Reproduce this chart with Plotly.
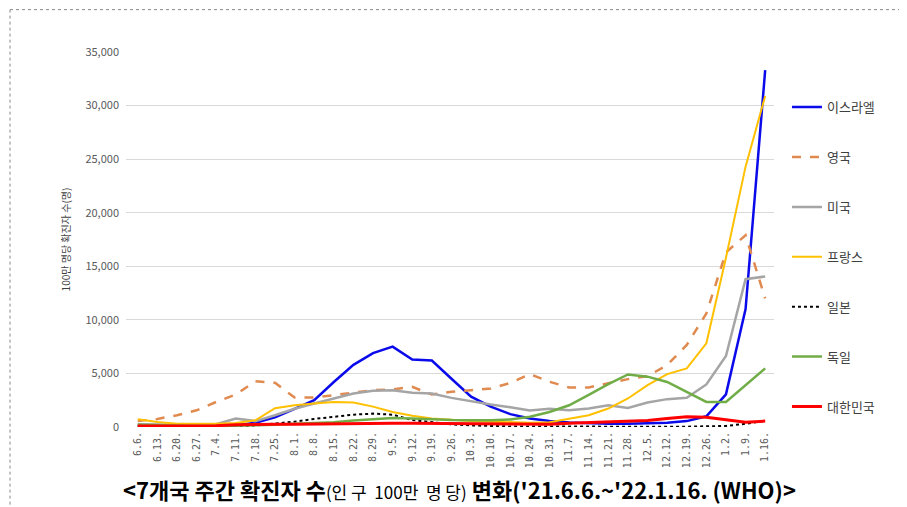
import plotly.graph_objects as go

weeks = ["6.6.", "6.13.", "6.20.", "6.27.", "7.4.", "7.11.", "7.18.", "7.25.", "8.1.", "8.8.",
         "8.15.", "8.22.", "8.29.", "9.5.", "9.12.", "9.19.", "9.26.", "10.3.", "10.10.", "10.17.",
         "10.24.", "10.31.", "11.7.", "11.14.", "11.21.", "11.28.", "12.5.", "12.12.", "12.19.", "12.26.",
         "1.2.", "1.9.", "1.16."]

israel = [100, 100, 100, 100, 100, 150, 400, 900, 1700, 2500, 4200, 5800, 6900, 7500, 6300, 6200, 4500,
          2830, 1900, 1200, 800, 550, 420, 350, 300, 300, 330, 400, 550, 1000, 3050, 11000, 33300]
uk = [550, 750, 1100, 1560, 2340, 3030, 4280, 4125, 2750, 2750, 2970, 3220, 3440, 3500, 3750, 3030, 3280,
      3440, 3590, 4120, 4940, 4220, 3690, 3690, 4060, 4470, 4750, 5780, 7660, 10600, 16300, 17900, 12000]
usa = [250, 200, 200, 200, 250, 800, 550, 1100, 1700, 2200, 2650, 3120, 3380, 3440, 3190, 3120, 2720,
       2400, 2100, 1850, 1550, 1700, 1560, 1720, 2030, 1780, 2280, 2600, 2720, 3970, 6630, 13800, 14050]
france = [720, 470, 310, 300, 300, 380, 620, 1750, 2030, 2190, 2340, 2280, 1900, 1400, 1050, 800, 650,
          550, 500, 450, 400, 450, 780, 1090, 1720, 2660, 3900, 4940, 5470, 7810, 15800, 24300, 30900]
japan = [30, 30, 30, 30, 50, 80, 150, 300, 500, 750, 950, 1150, 1250, 1150, 650, 450, 250,
         150, 80, 50, 40, 30, 30, 20, 20, 20, 20, 30, 30, 50, 100, 300, 600]
germany = [200, 150, 120, 100, 100, 120, 150, 200, 300, 350, 450, 600, 750, 850, 800, 700, 650,
           620, 620, 700, 950, 1400, 2030, 3000, 4000, 4900, 4700, 4200, 3300, 2340, 2340, 3900, 5470]
korea = [100, 100, 100, 100, 120, 200, 250, 250, 250, 280, 300, 320, 330, 350, 350, 330, 330,
         330, 300, 270, 250, 250, 350, 400, 450, 500, 600, 800, 950, 900, 700, 450, 550]

y_ticks = [0, 5000, 10000, 15000, 20000, 25000, 30000, 35000]

series = [
    ("이스라엘", israel, "#0A0AEB", "solid", 2.5),
    ("영국", uk, "#E08A50", "dash", 2.5),
    ("미국", usa, "#A5A5A5", "solid", 2.5),
    ("프랑스", france, "#FFC000", "solid", 2),
    ("일본", japan, "#000000", "dot", 2),
    ("독일", germany, "#70AD47", "solid", 2.5),
    ("대한민국", korea, "#FF0000", "solid", 3),
]

fig = go.Figure()
for i, (name, vals, color, dash, w) in enumerate(series):
    fig.add_trace(go.Scatter(
        x=list(range(len(weeks))), y=vals, name=name, mode="lines",
        line=dict(color=color, dash=dash, width=w),
        legendgroup=name, legendrank=i + 1,
    ))

font_kr = "Noto Sans CJK KR"
fig.update_layout(
    width=899, height=499,
    margin=dict(l=118, r=133, t=44, b=80),
    paper_bgcolor="white", plot_bgcolor="white",
    font=dict(family=font_kr, color="#404040"),
    showlegend=True,
    legend=dict(x=1.02, xanchor="left", y=0.893, yanchor="top",
                font=dict(family=font_kr, size=13, color="#404040"),
                tracegroupgap=30, itemwidth=30, bgcolor="rgba(0,0,0,0)"),
    xaxis=dict(
        tickmode="array", tickvals=list(range(len(weeks))), ticktext=weeks,
        tickangle=-90, range=[-0.6, len(weeks) - 0.55],
        showgrid=False, zeroline=False, showline=False,
        tickfont=dict(family="DejaVu Sans Mono", size=10, color="#595959"),
        ticks="", ticklabelstandoff=2,
    ),
    yaxis=dict(
        range=[0, 35000], tickvals=y_ticks, tickformat=",",
        showgrid=True, gridcolor="#D9D9D9", gridwidth=1,
        zeroline=False, showline=False,
        tickfont=dict(family=font_kr, size=11, color="#595959"),
        ticklabelstandoff=6,
        title=dict(text="100만 명당 확진자 수(명)", font=dict(family=font_kr, size=10, color="#404040"),
                   standoff=12),
    ),
    shapes=[
        dict(type="line", xref="paper", yref="paper", x0=-0.179, x1=1.202, y0=1.113, y1=1.113,
             line=dict(color="#888888", width=1, dash="dot")),
        dict(type="line", xref="paper", yref="paper", x0=-0.179, x1=-0.179, y0=1.113, y1=-0.215,
             line=dict(color="#888888", width=1, dash="dot")),
    ],
    annotations=[
        dict(xref="paper", yref="paper", x=0.514, y=-0.166, xanchor="center", yanchor="middle",
             showarrow=False,
             text="<b>&lt;7개국 주간 확진자 수</b><span style='font-size:17px'>(인 구  100만  명 당)</span>"
                  "<b> 변화('21.6.6.~'22.1.16. (WHO)&gt;</b>",
             font=dict(family=font_kr, size=22, color="#000000")),
    ],
)

fig.write_html("out.html", config={"displayModeBar": False},
               post_script="document.documentElement.style.overflow='hidden';"
                           "document.body.style.overflow='hidden';")
